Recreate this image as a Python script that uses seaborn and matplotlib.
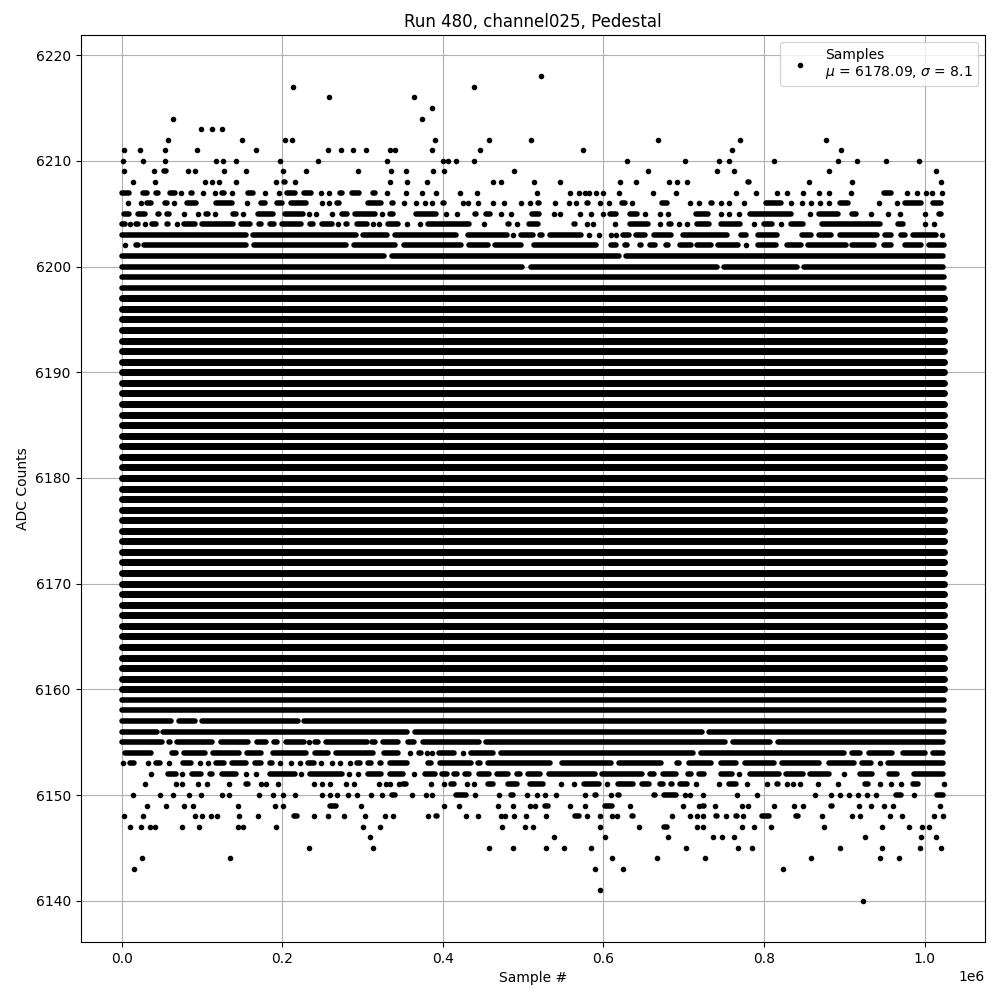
import matplotlib
matplotlib.use("Agg")
import matplotlib.pyplot as plt
import seaborn as sns

# sample positions are in thousands of samples
# a plain number is one sample, a tuple is an unbroken run of samples (outer edges as seen on the picture)
SAMPLE_UNIT = 1000
MARKER_RADIUS = 3

upper_levels = [6218, 6217, 6216, 6215, 6214, 6213, 6212, 6211, 6210, 6209, 6208, 6207, 6206, 6205, 6204, 6203, 6202, 6201, 6200]
upper_samples = [
    [522],
    [214, 439],
    [258, 364],
    [387],
    [64, 374],
    [99, 112, 125],
    [58, 150, 204, 212, 390, 458, 510, 668, 770, 877],
    [3, 23, 54, 94, 167, 257, 273, 288, 304, 334, 341, 387, 446, 575, 760, 896],
    [2, 27, 54, 117, 126, 142, 197, 244, 331, 400, 406, 416, 439, 629, 702, 744, 757, 813, 892, 916, 952, 993],
    [3, 40, (50, 58), 83, 91, 127, (152, 157), 201, (227, 233), 295, 336, 354, (385, 390), 401, 489, 656, 742, 762, 881, 1014],
    [14, 41, 104, 112, (120, 122), (140, 146), 192, (199, 207), 216, 334, 356, 380, 462, 472, 513, 546, 621, 641, 682, 692, (702, 706), (777, 784), 856, 910, 1020],
    [(1, 12), (24, 34), (40, 48), (57, 70), 74, (84, 91), 101, 116, (122, 130), (135, 141), (155, 167), (176, 181), (193, 198), (203, 219),
     (224, 239), 248, 258, (269, 277), (284, 299), (310, 318), 330, (352, 357), (371, 377), 392, 421, 443, (515, 520), 559, (569, 571), 577, 582,
     591, 600, 619, 662, 691, 765, 790, 816, 829, 849, 868, 881, 908, (947, 961), 978, 991, 1002, 1009, 1022],
    [8, 24, (29, 39), (51, 59), 65, (78, 96), (115, 140), 156, (171, 181), (191, 203), (208, 233), 250, 258, (265, 274), (304, 326), (334, 341),
     352, 367, (376, 380), 387, (397, 405), 425, 431, (441, 447), 462, (474, 479), (495, 500), 508, (515, 523), 540, (555, 560), 566, (576, 584),
     596, 607, (620, 630), 636, (670, 682), 708, 719, (731, 738), 747, 757, 775, (799, 824), 833, 847, 859, 870, 881, (892, 907), (941, 946),
     (963, 968), (973, 998), (1008, 1020)],
    [(3, 12), (18, 32), (42, 50), (53, 62), 78, (94, 97), (102, 111), 116, (124, 131), (136, 146), 151, (167, 192), (201, 229), 233, 242, 262,
     (272, 284), (288, 319), 324, (331, 341), (364, 395), (401, 407), 418, (437, 444), (451, 462), 473, 485, (508, 523), 539, 546, (568, 574), 585,
     599, (605, 619), (630, 645), 652, 670, 681, (712, 733), (744, 749), 757, 769, (780, 836), 857, (866, 895), (906, 918), 933, (952, 957), 969,
     (998, 1003), (1015, 1020)],
    [(1, 7), 10, (15, 23), (28, 31), (35, 46), (54, 61), 69, (75, 94), (97, 142), (146, 163), (168, 176), (182, 193), (197, 227), (231, 241),
     (246, 265), 270, (277, 284), (290, 308), 313, 320, (329, 347), (353, 359), 372, (378, 436), (449, 454), (478, 486), 492, (504, 521), (560, 567),
     580, 587, 615, (630, 658), 670, (679, 687), 694, 704, (714, 735), (744, 773), 787, (797, 813), 821, (830, 851), (869, 948), (964, 976), (998, 1004), 1012],
    [(1, 158), (161, 295), (298, 333), (337, 420), (428, 483), 488, (494, 515), (518, 527), (530, 575), 582, 594, 609, 616, (621, 635), (638, 655),
     (660, 687), (696, 757), (768, 780), (790, 819), (844, 861), (866, 886), (892, 944), (948, 961), (968, 979), (983, 1017), 1022],
    [4, (15, 23), (25, 158), (162, 283), (287, 343), (349, 426), (429, 459), (462, 500), (510, 594), (606, 619), (624, 632), (642, 650), (655, 667),
     (675, 683), (692, 712), (714, 737), (740, 770), (775, 780), (790, 818), (826, 849), (852, 905), (907, 940), (946, 961), (972, 998), (1003, 1024)],
    [(1, 330), (334, 623), (625, 1023)],
    [(1, 502), (507, 744), (747, 844), (847, 1023)],
]

core_levels = list(range(6199, 6157, -1))
core_span = [(0, 1024)]

lower_levels = [6157, 6156, 6155, 6154, 6153, 6152, 6151, 6150, 6149, 6148, 6147, 6146, 6145, 6144, 6143, 6141, 6140]
lower_samples = [
    [(1, 65), (68, 94), (97, 223), (224, 1024)],
    [(1, 47), (49, 359), (362, 726), (728, 1024)],
    [(1, 53), (56, 63), (66, 116), (121, 161), (165, 183), (187, 196), (202, 230), 233, (238, 248), (252, 308), (309, 319), (323, 347), (354, 367),
     (372, 448), (451, 755), (758, 811), (814, 1023)],
    [(4, 40), (48, 55), (60, 71), (75, 107), (111, 149), (153, 177), (186, 233), (238, 260), (264, 316), (324, 347), 359, (367, 376), 380, 386,
     (392, 417), 425, (432, 466), (469, 714), (719, 903), (906, 923), (928, 963), (970, 1003), (1008, 1023)],
    [2, (8, 18), 33, (40, 51), 59, (73, 90), (95, 101), 107, (115, 130), (134, 158), (163, 177), (182, 190), 197, 211, 222, (229, 243), 248, 262,
     (270, 275), 284, (290, 300), (304, 313), (319, 326), (331, 359), (378, 388), (393, 438), (441, 449), (453, 536), (545, 612), (617, 675), (689, 697),
     (704, 737), (743, 768), (773, 816), (820, 872), (878, 915), (919, 936), (942, 947), (952, 1023)],
    [(34, 40), (55, 71), 75, (85, 102), (107, 116), (122, 145), (152, 158), 167, (182, 219), 223, (231, 277), 283, 295, (304, 326), (331, 354), 364,
     (375, 393), (396, 408), (411, 421), (425, 436), (442, 461), (464, 484), (490, 499), (503, 524), (529, 592), (595, 651), (655, 666), (671, 693),
     (702, 712), (716, 728), (743, 763), 769, (780, 822), (825, 851), (854, 884), 900, (916, 938), (953, 969), (984, 1023)],
    [29, 68, 75, 95, 106, (131, 136), (152, 161), 173, 180, (192, 198), (236, 242), 250, 259, 280, 290, 320, 329, 334, 345, (347, 357), (382, 388), 401,
     (407, 417), 430, 439, (453, 466), (478, 495), (505, 528), 547, 563, (573, 597), 605, (615, 640), (645, 660), (667, 677), (681, 688), (692, 707),
     (713, 718), (723, 730), 744, (754, 768), 779, (789, 796), 804, (813, 820), 829, 836, 845, (865, 869), 892, (923, 933), 944, (956, 961), (967, 973),
     (982, 995), 1024],
    [14, 48, 64, 84, (96, 102), 125, 134, 171, (186, 192), 201, (213, 219), (247, 253), 260, 268, (279, 285), 293, 310, 324, (334, 344), 362, 379, 387,
     (413, 432), (438, 443), (468, 473), (482, 490), 505, (514, 520), 527, 541, (575, 580), (586, 594), 609, (615, 622), (660, 667), (672, 694), 701, 708,
     724, (743, 750), (763, 769), 791, (835, 842), 864, 883, 895, 906, 917, 928, 939, (961, 973), (984, 990), (997, 1004), (1012, 1023)],
    [31, 55, 78, 89, 145, 191, 201, (257, 270), 298, 401, (418, 423), 469, 488, 508, 515, (524, 534), 558, 577, (599, 614), 633, 699, 719, (721, 728),
     (737, 742), 772, 780, 813, 837, 849, (881, 888), 918, 933, (947, 953), 961, 1019],
    [3, 27, (88, 94), 100, 111, 119, 146, 170, (212, 222), 240, (254, 260), 277, 303, 328, 338, 382, (388, 396), (427, 431), 444, 473, 478, (487, 490), 503,
     529, (561, 573), 579, 596, 611, 617, (632, 640), (683, 687), 708, 717, 724, (737, 745), 753, (762, 769), 774, (795, 809), (837, 845), 872, (906, 912),
     920, 957, 972, 1012, 1023],
    [10, 24, 35, 41, 75, 96, 145, 151, 192, 300, (319, 325), 474, 502, 512, 596, (642, 646), (672, 682), 717, 724, 773, (785, 791), (806, 811), (872, 878), 947, 980, 997, 1005],
    [309, 539, 602, 681, 737, 748, 763, 926, 995, 1014],
    [233, 313, 457, 487, 529, 551, 584, 703, 768, 785, 895, 947, 994, 1020],
    [25, 135, 611, 667, 727, 859, 944, 968],
    [15, 590, 624, 824],
    [596],
    [923],
]

title_text = "Run 480, channel025, Pedestal"
x_label = "Sample #"
y_label = "ADC Counts"
legend_text = "Samples\n$\\mu$ = 6178.09, $\\sigma$ = 8.1"

levels = upper_levels + core_levels + lower_levels
samples = upper_samples + [core_span] * len(core_levels) + lower_samples

# split single samples from the runs, run edges were read with the marker radius included
dot_x, dot_y = [], []
run_x0, run_x1, run_y = [], [], []
for level, row in zip(levels, samples):
    for item in row:
        if isinstance(item, tuple):
            start = item[0] if item[0] <= 4 else item[0] + MARKER_RADIUS
            end = item[1] if item[1] >= 1020 else item[1] - MARKER_RADIUS
            if start >= end:
                dot_x.append((item[0] + item[1]) / 2 * SAMPLE_UNIT)
                dot_y.append(level)
            else:
                run_x0.append(start * SAMPLE_UNIT)
                run_x1.append(end * SAMPLE_UNIT)
                run_y.append(level)
        else:
            dot_x.append(item * SAMPLE_UNIT)
            dot_y.append(level)

fig, ax = plt.subplots(figsize=(10, 10), dpi=100)

sns.lineplot(x=dot_x, y=dot_y, color="k", marker=".", markersize=6, markeredgecolor="k",
             markeredgewidth=1, linestyle="", estimator=None, sort=False, label=legend_text, ax=ax)

# full rows overlap many markers, so they come out a bit thicker than one dot
thick = [min(core_levels) + 2 <= y <= max(core_levels) - 2 for y in run_y]
widths = [5.0 if t else 4.0 for t in thick]
ax.hlines(run_y, run_x0, run_x1, colors="k", linewidth=widths, capstyle="round", zorder=2)

ax.grid(True)
ax.set_title(title_text)
ax.set_xlabel(x_label)
ax.set_ylabel(y_label)
ax.legend(loc="upper right")

fig.subplots_adjust(left=0.0805, right=0.985, top=0.965, bottom=0.058)
fig.savefig("out.png")
